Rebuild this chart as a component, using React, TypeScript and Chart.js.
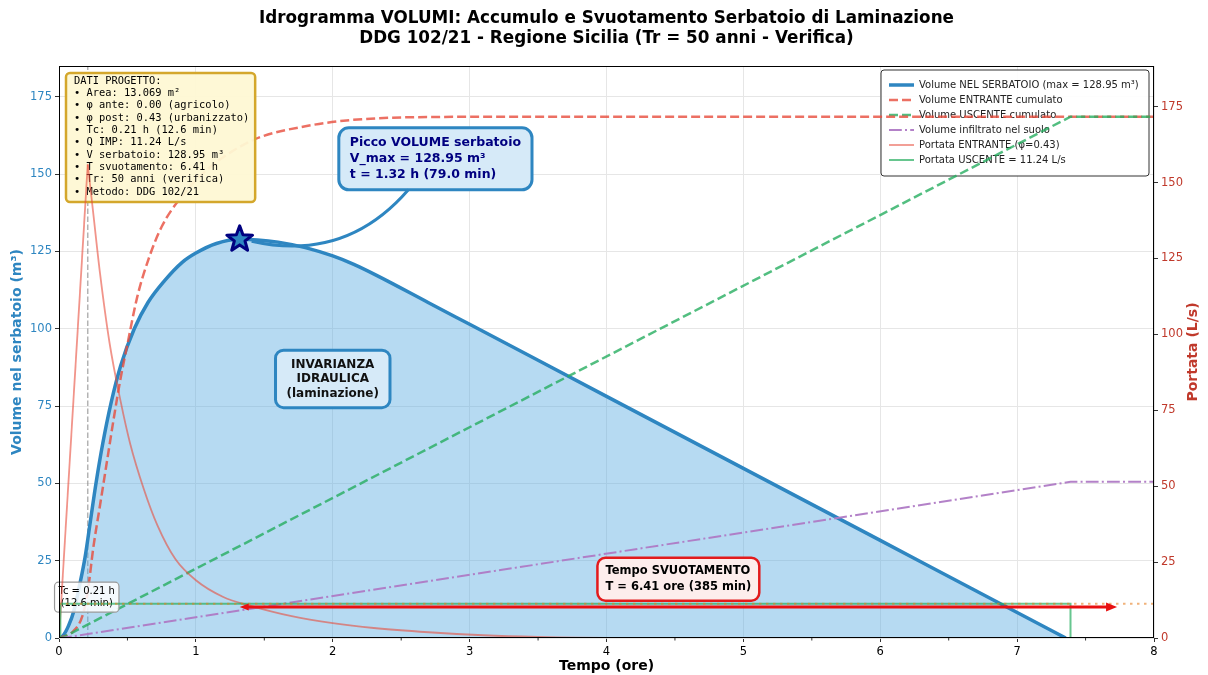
import { useEffect, useRef } from 'react';
import { Chart, registerables } from 'chart.js';

Chart.register(...registerables);

const W = 1208;
const H = 675;
const FONT = "'DejaVu Sans', Verdana, sans-serif";
const MONO = "'DejaVu Sans Mono', monospace";

// ---------- data ----------
// Volume nel serbatoio (m³)
const volT = [0, 0.03, 0.07, 0.11, 0.15, 0.19, 0.23, 0.27, 0.32, 0.38, 0.45, 0.55, 0.65, 0.77, 0.9, 1.0, 1.15, 1.32, 1.45, 1.6, 1.8, 2.0, 2.15, 2.32, 2.7, 3.0, 3.5, 4.0, 5.0, 6.0, 7.0, 7.355];
const volV = [0, 0.8, 4, 9, 17, 26, 38, 50, 63, 76, 88, 100, 108.5, 115.5, 121.5, 124.5, 127.6, 128.95, 128.76, 128.04, 126.27, 123.56, 120.92, 117.3, 108.45, 101.46, 89.81, 78.16, 54.86, 31.56, 8.26, 0];
// Volume entrante cumulato (m³)
const inT = [0, 0.1, 0.17, 0.21, 0.25, 0.3, 0.35, 0.4, 0.45, 0.5, 0.57, 0.65, 0.75, 0.9, 1.07, 1.25, 1.47, 1.8, 2.1, 2.7, 3.5, 8];
const inV = [0, 2, 7, 15, 29, 43, 57, 71, 84, 95, 110, 122, 133, 143, 151, 157, 162, 165.5, 167.4, 168.5, 168.6, 168.6];
// Volume uscente cumulato (m³)
const outT = [0, 0.02, 7.39, 8];
const outV = [0, 0, 168.6, 168.6];
// Volume infiltrato nel suolo (m³)
const infT = [0, 0.02, 7.39, 8];
const infV = [0, 0, 50.5, 50.5];
// Portata entrante (L/s): rising limb and recession
const qRiseT = [0, 0.21];
const qRiseV = [0, 156];
const qDecT = [0.21, 0.25, 0.3, 0.37, 0.45, 0.52, 0.62, 0.72, 0.85, 1.0, 1.2, 1.4, 1.7, 2.0, 2.3, 2.7, 3.1, 3.5, 4.0, 8.0];
const qDecV = [156, 140, 120, 97, 78, 64, 49, 37, 26, 19, 13.5, 10.6, 7.2, 4.9, 3.3, 1.9, 0.9, 0.35, 0.05, 0];
// Portata uscente (L/s)
const qOutT = [0, 0.01, 0.01, 7.39, 7.39, 8];
const qOutV = [0, 0, 11.24, 11.24, 0, 0];
// Q IMP reference level (L/s)
const qImpT = [0, 8];
const qImpV = [11.24, 11.24];
// Tc marker
const TC = 0.21;
const tcT = [TC, TC];
const tcV = [0, 185];

// axes
const X_MAX = 8;
const Y_MAX = 185;
const Y2_MAX = 188.4;
const X_STEP = 1;
const Y_STEP = 25;

// annotations (data coordinates)
const PEAK_T = 1.32;
const PEAK_V = 128.95;
const PICCO_T = 2.75;
const PICCO_V = 155;
const INV_T = 2.0;
const INV_V = 83.8;
const SV_T = 4.525;
const SV_V = 19;
const TCBOX_V = 13.2;
const ARROW_T1 = 1.32;
const ARROW_T2 = 7.73;
const ARROW_V = 10;

const TITLE1 = 'Idrogramma VOLUMI: Accumulo e Svuotamento Serbatoio di Laminazione';
const TITLE2 = 'DDG 102/21 - Regione Sicilia (Tr = 50 anni - Verifica)';
const XLABEL = 'Tempo (ore)';
const YLABEL = 'Volume nel serbatoio (m³)';
const Y2LABEL = 'Portata (L/s)';

const INFO_LINES = [
  'DATI PROGETTO:',
  '• Area: 13.069 m²',
  '• φ ante: 0.00 (agricolo)',
  '• φ post: 0.43 (urbanizzato)',
  '• Tc: 0.21 h (12.6 min)',
  '• Q IMP: 11.24 L/s',
  '• V serbatoio: 128.95 m³',
  '• T svuotamento: 6.41 h',
  '• Tr: 50 anni (verifica)',
  '• Metodo: DDG 102/21',
];
const PICCO_LINES = ['Picco VOLUME serbatoio', 'V_max = 128.95 m³', 't = 1.32 h (79.0 min)'];
const INV_LINES = ['INVARIANZA', 'IDRAULICA', '(laminazione)'];
const SV_LINES = ['Tempo SVUOTAMENTO', 'T = 6.41 ore (385 min)'];
const TC_LINES = ['Tc = 0.21 h', '(12.6 min)'];

const LEGEND_LABELS = [
  'Volume NEL SERBATOIO (max = 128.95 m³)',
  'Volume ENTRANTE cumulato',
  'Volume USCENTE cumulato',
  'Volume infiltrato nel suolo',
  'Portata ENTRANTE (φ=0.43)',
  'Portata USCENTE = 11.24 L/s',
];

// styles
const C_VOL = '#2E86C1';
const C_FILL = 'rgba(93,173,226,0.45)';
const C_IN = 'rgba(231,76,60,0.8)';
const C_OUT = 'rgba(39,174,96,0.8)';
const C_INF = 'rgba(175,122,197,0.95)';
const C_QIN = 'rgba(231,76,60,0.6)';
const C_QOUT = 'rgba(39,174,96,0.7)';
const C_QIMP = 'rgba(230,126,34,0.6)';
const C_TC = 'rgba(128,128,128,0.6)';
const C_Y2 = '#C0392B';

const LEGEND_STYLES = [
  { color: C_VOL, width: 3.5, dash: [] as number[] },
  { color: C_IN, width: 2.5, dash: [9, 4] },
  { color: C_OUT, width: 2.5, dash: [9, 4] },
  { color: C_INF, width: 2, dash: [12.8, 3.2, 2, 3.2] },
  { color: C_QIN, width: 1.8, dash: [] as number[] },
  { color: C_QOUT, width: 2, dash: [] as number[] },
];

const xy = (ts: number[], vs: number[]) => ts.map((t, i) => ({ x: t, y: vs[i] }));

function rbox(ctx: CanvasRenderingContext2D, x: number, y: number, w: number, h: number, r: number, fill: string, stroke: string, lw: number) {
  ctx.save();
  ctx.beginPath();
  if ((ctx as any).roundRect) (ctx as any).roundRect(x, y, w, h, r);
  else ctx.rect(x, y, w, h);
  ctx.fillStyle = fill;
  ctx.fill();
  ctx.lineWidth = lw;
  ctx.strokeStyle = stroke;
  ctx.stroke();
  ctx.restore();
}

function textBox(
  ctx: CanvasRenderingContext2D,
  lines: string[],
  cx: number,
  cy: number,
  font: string,
  lineH: number,
  padX: number,
  padY: number,
  align: 'left' | 'center',
  color: string,
  fill: string,
  stroke: string,
  lw: number,
  r: number,
) {
  ctx.save();
  ctx.font = font;
  const tw = Math.max(...lines.map((l) => ctx.measureText(l).width));
  const w = tw + 2 * padX;
  const h = lines.length * lineH + 2 * padY;
  const x0 = cx - w / 2;
  const y0 = cy - h / 2;
  rbox(ctx, x0, y0, w, h, r, fill, stroke, lw);
  ctx.fillStyle = color;
  ctx.textBaseline = 'middle';
  ctx.textAlign = align;
  lines.forEach((l, i) => {
    const ty = y0 + padY + lineH * (i + 0.5);
    ctx.fillText(l, align === 'left' ? x0 + padX : cx, ty);
  });
  ctx.restore();
  return { x0, y0, w, h };
}

let QDEC_INDEX = 5;

const overlay = {
  id: 'overlay',
  beforeDatasetsDraw(chart: any) {
    const { ctx, chartArea: ca } = chart;
    // legend
    const lx1 = ca.right - 5;
    const ly0 = ca.top + 4;
    const lx0 = lx1 - 268;
    const rowH = 15;
    ctx.save();
    rbox(ctx, lx0, ly0, lx1 - lx0, 106, 3, 'rgba(255,255,255,0.9)', '#333', 1);
    ctx.font = `10px ${FONT}`;
    ctx.textBaseline = 'middle';
    ctx.textAlign = 'left';
    LEGEND_LABELS.forEach((lab, i) => {
      const yy = ly0 + 15 + i * rowH;
      const s = LEGEND_STYLES[i];
      ctx.beginPath();
      ctx.setLineDash(s.dash);
      ctx.lineWidth = s.width;
      ctx.strokeStyle = s.color;
      ctx.moveTo(lx0 + 8, yy);
      ctx.lineTo(lx0 + 33, yy);
      ctx.stroke();
      ctx.setLineDash([]);
      ctx.fillStyle = '#222';
      ctx.fillText(lab, lx0 + 38, yy);
    });
    ctx.restore();
  },
  beforeDatasetDraw(chart: any, args: any) {
    if (args.index !== QDEC_INDEX) return;
    const { ctx, chartArea: ca, scales } = chart;
    // info box
    ctx.save();
    ctx.font = `10.4px ${MONO}`;
    const tw = Math.max(...INFO_LINES.map((l) => ctx.measureText(l).width));
    const bx = ca.left + 7;
    const by = ca.top + 7;
    const lineH = 12.33;
    rbox(ctx, bx, by, tw + 14, 8 + (INFO_LINES.length - 1) * lineH + 10, 4, 'rgba(254,248,212,0.95)', '#D4A72C', 2.5);
    ctx.fillStyle = '#000';
    ctx.textBaseline = 'middle';
    ctx.textAlign = 'left';
    INFO_LINES.forEach((l, i) => ctx.fillText(l, bx + 8, by + 8 + lineH * i));
    ctx.restore();
    // Tc box
    const tx = scales.x.getPixelForValue(TC);
    const ty = scales.y.getPixelForValue(TCBOX_V);
    textBox(ctx, TC_LINES, tx - 1, ty, `10px ${FONT}`, 12, 4, 3, 'center', '#000', 'rgba(255,255,255,0.85)', '#999', 1.2, 4);
  },
  afterDatasetsDraw(chart: any) {
    const { ctx, scales } = chart;
    const sx = scales.x;
    const sy = scales.y;
    // arrow (svuotamento)
    const ax1 = sx.getPixelForValue(ARROW_T1);
    const ax2 = sx.getPixelForValue(ARROW_T2);
    const ay = sy.getPixelForValue(ARROW_V);
    ctx.save();
    ctx.strokeStyle = '#E81010';
    ctx.fillStyle = '#E81010';
    ctx.lineWidth = 3;
    ctx.beginPath();
    ctx.moveTo(ax1 + 6, ay);
    ctx.lineTo(ax2 - 8, ay);
    ctx.stroke();
    ctx.beginPath();
    ctx.moveTo(ax2, ay);
    ctx.lineTo(ax2 - 11, ay - 4.5);
    ctx.lineTo(ax2 - 11, ay + 4.5);
    ctx.closePath();
    ctx.fill();
    ctx.beginPath();
    ctx.moveTo(ax1, ay);
    ctx.lineTo(ax1 + 9, ay - 3.5);
    ctx.lineTo(ax1 + 9, ay + 3.5);
    ctx.closePath();
    ctx.fill();
    ctx.restore();

    // svuotamento box
    textBox(ctx, SV_LINES, sx.getPixelForValue(SV_T), sy.getPixelForValue(SV_V), `bold 11.5px ${FONT}`, 16.5, 8, 5, 'left', '#000', '#FDEDEC', '#E31A1C', 2.5, 8);

    // invarianza box
    textBox(ctx, INV_LINES, sx.getPixelForValue(INV_T), sy.getPixelForValue(INV_V), `bold 12px ${FONT}`, 14.5, 11, 7, 'center', '#111', '#D6EAF8', C_VOL, 3, 8);

    // picco box + connector
    const px = sx.getPixelForValue(PEAK_T);
    const py = sy.getPixelForValue(PEAK_V);
    const b = textBox(ctx, PICCO_LINES, sx.getPixelForValue(PICCO_T), sy.getPixelForValue(PICCO_V), `bold 12.5px ${FONT}`, 16, 11, 7, 'left', '#000080', '#D6EAF8', C_VOL, 3, 10);
    const p0x = b.x0 + b.w * 0.36;
    const p0y = b.y0 + b.h;
    const p2x = px + 12;
    const p2y = py + 2;
    const mx = (p0x + p2x) / 2;
    const my = (p0y + p2y) / 2;
    const dx = p2x - p0x;
    const dy = p2y - p0y;
    const cxp = mx + 0.3 * dy;
    const cyp = my - 0.3 * dx;
    ctx.save();
    ctx.strokeStyle = C_VOL;
    ctx.lineWidth = 3;
    ctx.beginPath();
    ctx.moveTo(p0x, p0y);
    ctx.quadraticCurveTo(cxp, cyp, p2x, p2y);
    ctx.stroke();
    ctx.restore();

    // star at peak
    ctx.save();
    ctx.beginPath();
    for (let i = 0; i < 10; i++) {
      const a = -Math.PI / 2 + (i * Math.PI) / 5;
      const rr = i % 2 === 0 ? 13.5 : 5.6;
      ctx.lineTo(px + rr * Math.cos(a), py + rr * Math.sin(a));
    }
    ctx.closePath();
    ctx.fillStyle = C_VOL;
    ctx.fill();
    ctx.lineJoin = 'round';
    ctx.lineWidth = 3;
    ctx.strokeStyle = '#000080';
    ctx.stroke();
    ctx.restore();
  },
  afterDraw(chart: any) {
    const { ctx, chartArea: ca, scales } = chart;
    ctx.save();
    // frame
    ctx.strokeStyle = '#000';
    ctx.lineWidth = 1;
    ctx.strokeRect(ca.left + 0.5, ca.top + 0.5, ca.right - ca.left - 1, ca.bottom - ca.top - 1);
    // minor x ticks
    ctx.strokeStyle = '#333';
    for (let t = 0.5; t < X_MAX; t += 1) {
      const x = scales.x.getPixelForValue(t);
      ctx.beginPath();
      ctx.moveTo(x, ca.bottom);
      ctx.lineTo(x, ca.bottom + 2.5);
      ctx.stroke();
    }
    // titles
    const mid = (ca.left + ca.right) / 2;
    ctx.fillStyle = '#000';
    ctx.textAlign = 'center';
    ctx.textBaseline = 'middle';
    ctx.font = `bold 16.8px ${FONT}`;
    ctx.fillText(TITLE1, mid, 19);
    ctx.fillText(TITLE2, mid, 39);
    ctx.font = `bold 14px ${FONT}`;
    ctx.fillText(XLABEL, mid, 666);
    const ymid = (ca.top + ca.bottom) / 2;
    ctx.save();
    ctx.translate(17, ymid);
    ctx.rotate(-Math.PI / 2);
    ctx.fillStyle = C_VOL;
    ctx.fillText(YLABEL, 0, 0);
    ctx.restore();
    ctx.save();
    ctx.translate(1193, ymid);
    ctx.rotate(-Math.PI / 2);
    ctx.fillStyle = C_Y2;
    ctx.fillText(Y2LABEL, 0, 0);
    ctx.restore();
    ctx.restore();
  },
};

export default function App() {
  const ref = useRef<HTMLCanvasElement | null>(null);
  useEffect(() => {
    document.body.style.margin = '0';
    const canvas = ref.current;
    if (!canvas) return;
    Chart.defaults.font.family = FONT;
    const datasets: any[] = [
      { label: 'tc', data: xy(tcT, tcV), yAxisID: 'y', borderColor: C_TC, borderWidth: 1.5, borderDash: [5.5, 2.5], pointRadius: 0, order: 10 },
      { label: 'vol', data: xy(volT, volV), yAxisID: 'y', borderColor: C_VOL, borderWidth: 3.5, backgroundColor: C_FILL, fill: 'origin', cubicInterpolationMode: 'monotone', pointRadius: 0, order: 9 },
      { label: 'in', data: xy(inT, inV), yAxisID: 'y', borderColor: C_IN, borderWidth: 2.5, borderDash: [9, 4], cubicInterpolationMode: 'monotone', pointRadius: 0, order: 8 },
      { label: 'out', data: xy(outT, outV), yAxisID: 'y', borderColor: C_OUT, borderWidth: 2.5, borderDash: [9, 4], pointRadius: 0, order: 7 },
      { label: 'inf', data: xy(infT, infV), yAxisID: 'y', borderColor: C_INF, borderWidth: 2, borderDash: [12.8, 3.2, 2, 3.2], pointRadius: 0, order: 6 },
      { label: 'qdec', data: xy(qDecT, qDecV), yAxisID: 'y2', borderColor: C_QIN, borderWidth: 1.8, cubicInterpolationMode: 'monotone', pointRadius: 0, order: 5 },
      { label: 'qrise', data: xy(qRiseT, qRiseV), yAxisID: 'y2', borderColor: C_QIN, borderWidth: 1.8, pointRadius: 0, order: 4 },
      { label: 'qout', data: xy(qOutT, qOutV), yAxisID: 'y2', borderColor: C_QOUT, borderWidth: 2, pointRadius: 0, order: 3 },
      { label: 'qimp', data: xy(qImpT, qImpV), yAxisID: 'y2', borderColor: C_QIMP, borderWidth: 2, borderDash: [2.5, 4.5], pointRadius: 0, order: 2 },
    ];
    QDEC_INDEX = datasets.findIndex((d) => d.label === 'qdec');
    const chart = new Chart(canvas, {
      type: 'line',
      data: { datasets },
      plugins: [overlay as any],
      options: {
        animation: false,
        responsive: false,
        devicePixelRatio: 1,
        layout: { padding: { top: 66, left: 0, right: 0, bottom: 0 } },
        plugins: { legend: { display: false }, title: { display: false }, tooltip: { enabled: false } },
        scales: {
          x: {
            type: 'linear',
            min: 0,
            max: X_MAX,
            afterFit: (s: any) => { s.height = H - 638; },
            ticks: { stepSize: X_STEP, color: '#000', font: { size: 11.5 }, padding: 3, includeBounds: false },
            grid: { color: '#e6e6e6', tickColor: '#333', tickLength: 4 },
            border: { display: false },
          },
          y: {
            type: 'linear',
            position: 'left',
            min: 0,
            max: Y_MAX,
            afterFit: (s: any) => { s.width = 59; },
            ticks: { stepSize: Y_STEP, color: C_VOL, font: { size: 11.5 }, padding: 3, includeBounds: false },
            grid: { color: '#e6e6e6', tickColor: '#333', tickLength: 4 },
            border: { display: false },
          },
          y2: {
            type: 'linear',
            position: 'right',
            min: 0,
            max: Y2_MAX,
            afterFit: (s: any) => { s.width = W - 1154; },
            ticks: { stepSize: Y_STEP, color: C_Y2, font: { size: 11.5 }, padding: 3, includeBounds: false },
            grid: { drawOnChartArea: false, tickColor: '#333', tickLength: 4 },
            border: { display: false },
          },
        },
      } as any,
    });
    return () => chart.destroy();
  }, []);
  return (
    <div style={{ width: W, height: H, background: '#fff' }}>
      <canvas ref={ref} width={W} height={H} style={{ display: 'block' }} />
    </div>
  );
}
